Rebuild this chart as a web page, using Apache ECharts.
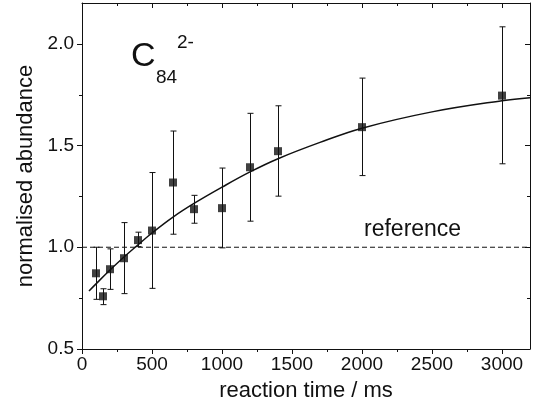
<!DOCTYPE html>
<html>
<head>
<meta charset="utf-8">
<script src="https://cdn.jsdelivr.net/npm/echarts@6/dist/echarts.min.js"></script>
<style>
html,body{margin:0;padding:0;background:#fff;}
#chart{width:537px;height:414px;}
</style>
</head>
<body>
<div id="chart"></div>
<script>
// ---- data ----
const times    = [100, 150, 200, 300, 400, 500, 650, 800, 1000, 1200, 1400, 2000, 3000];
const values   = [0.872, 0.759, 0.892, 0.946, 1.035, 1.082, 1.318, 1.187, 1.192, 1.393, 1.472, 1.590, 1.745];
const errLow   = [0.744, 0.718, 0.793, 0.772, 1.003, 0.798, 1.064, 1.118, 0.997, 1.128, 1.251, 1.352, 1.410];
const errHigh  = [1.000, 0.796, 0.992, 1.121, 1.074, 1.367, 1.571, 1.255, 1.389, 1.658, 1.695, 1.831, 2.083];
const fitTimes = [50, 100, 200, 300, 400, 500, 650, 800, 1000, 1200, 1400, 1700, 2000, 2500, 3000, 3200];
const fitVals  = [0.785, 0.82, 0.888, 0.952, 1.012, 1.07, 1.148, 1.215, 1.295, 1.37, 1.435, 1.515, 1.585, 1.665, 1.72, 1.735];
const referenceLevel = 1.0;
const xMajorTicks = [0, 500, 1000, 1500, 2000, 2500, 3000];
const xMinorTicks = [250, 750, 1250, 1750, 2250, 2750];
const yMajorTicks = [0.5, 1.0, 1.5, 2.0];
const yMinorTicks = [0.75, 1.25, 1.75];
const xTitle = 'reaction time / ms';
const yTitle = 'normalised abundance';

const FONT = '"Liberation Sans", Arial, sans-serif';
const INK = '#111';
const X_MIN = 0, X_MAX = 3200, Y_MIN = 0.5, Y_MAX = 2.2;
const X_STEP = 500, Y_STEP = 0.5;
const MAJOR_LEN = 5, MINOR_LEN = 3;

const line = { show: true, onZero: false, lineStyle: { color: INK, width: 1 } };
function ax(min, max, step, opts) {
  return Object.assign({
    type: 'value', min: min, max: max, interval: step, gridIndex: 0,
    splitLine: { show: false },
    axisLine: line,
    axisLabel: { show: false },
    axisTick: { show: false }
  }, opts);
}
const isMajor = (v, step) => Math.abs(v / step - Math.round(v / step)) < 1e-6;

// tick marks: value + major flag, placed through the axes' scales
const xTickData = xMajorTicks.map(v => [v, Y_MIN, 1]).concat(xMinorTicks.map(v => [v, Y_MIN, 0]));
const yTickData = yMajorTicks.map(v => [X_MIN, v, 1]).concat(yMinorTicks.map(v => [X_MIN, v, 0]));

const chart = echarts.init(document.getElementById('chart'), null, { renderer: 'canvas' });

const option = {
  animation: false,
  backgroundColor: '#fff',
  grid: { left: 82, right: 7, top: 3, bottom: 65, containLabel: false, outerBoundsMode: 'none' },
  xAxis: [
    ax(X_MIN, X_MAX, X_STEP, {
      position: 'bottom',
      axisLabel: { show: true, margin: 6, color: INK, fontSize: 19, fontFamily: FONT,
        showMaxLabel: false, formatter: v => (isMajor(v, X_STEP) ? String(v) : '') },
      name: xTitle, nameLocation: 'middle', nameGap: 31,
      nameTextStyle: { color: INK, fontSize: 22, fontFamily: FONT }
    }),
    ax(X_MIN, X_MAX, X_STEP, { position: 'top' })
  ],
  yAxis: [
    ax(Y_MIN, Y_MAX, Y_STEP, {
      position: 'left',
      axisLabel: { show: true, margin: 8, color: INK, fontSize: 19, fontFamily: FONT,
        showMaxLabel: false, formatter: v => (isMajor(v, Y_STEP) ? v.toFixed(1) : '') },
      name: yTitle, nameLocation: 'middle', nameGap: 44,
      nameTextStyle: { color: INK, fontSize: 22, fontFamily: FONT }
    }),
    ax(Y_MIN, Y_MAX, Y_STEP, { position: 'right' })
  ],
  graphic: [
    { type: 'text', left: 131, top: 40, style: { text: 'C', fill: INK, font: '34px ' + FONT } },
    { type: 'text', left: 156, top: 68, style: { text: '84', fill: INK, font: '19px ' + FONT } },
    { type: 'text', left: 177, top: 33, style: { text: '2-', fill: INK, font: '19px ' + FONT } },
    { type: 'text', left: 364, top: 218, style: { text: 'reference', fill: INK, font: '23px ' + FONT } }
  ],
  series: [
    {
      type: 'line', xAxisIndex: 0, yAxisIndex: 0,
      data: [[X_MIN, referenceLevel], [X_MAX, referenceLevel]],
      showSymbol: false, symbol: 'none', silent: true,
      lineStyle: { color: INK, width: 1, type: [5, 3] }, z: 1
    },
    {
      type: 'line', xAxisIndex: 0, yAxisIndex: 0,
      data: fitTimes.map((t, i) => [t, fitVals[i]]),
      smooth: 0.4, showSymbol: false, symbol: 'none',
      lineStyle: { color: INK, width: 1.5 }, z: 2
    },
    {
      type: 'custom', xAxisIndex: 0, yAxisIndex: 0, z: 3, clip: false, silent: true,
      data: times.map((t, i) => [t, errLow[i], errHigh[i]]),
      renderItem: function (params, api) {
        const x = api.value(0);
        const lo = api.coord([x, api.value(1)]);
        const hi = api.coord([x, api.value(2)]);
        const cap = 3;
        const px = Math.round(lo[0]) + 0.5;
        const st = { stroke: INK, lineWidth: 1 };
        return { type: 'group', children: [
          { type: 'line', shape: { x1: px, y1: lo[1], x2: px, y2: hi[1] }, style: st },
          { type: 'line', shape: { x1: px - cap, y1: lo[1], x2: px + cap, y2: lo[1] }, style: st },
          { type: 'line', shape: { x1: px - cap, y1: hi[1], x2: px + cap, y2: hi[1] }, style: st }
        ] };
      }
    },
    {
      type: 'scatter', xAxisIndex: 0, yAxisIndex: 0, z: 4,
      data: times.map((t, i) => [t, values[i]]),
      symbol: 'rect', symbolSize: 8,
      itemStyle: { color: INK }
    },
    {
      // x-axis ticks: outward at the bottom, inward at the top
      type: 'custom', xAxisIndex: 0, yAxisIndex: 0, z: 5, clip: false, silent: true,
      data: xTickData,
      renderItem: function (params, api) {
        const cs = params.coordSys;
        const px = Math.round(api.coord([api.value(0), Y_MIN])[0]) + 0.5;
        const len = api.value(2) ? MAJOR_LEN : MINOR_LEN;
        const bottom = cs.y + cs.height, top = cs.y;
        const st = { stroke: INK, lineWidth: 1 };
        return { type: 'group', children: [
          { type: 'line', shape: { x1: px, y1: bottom, x2: px, y2: bottom + len }, style: st },
          { type: 'line', shape: { x1: px, y1: top, x2: px, y2: top + len }, style: st }
        ] };
      }
    },
    {
      // y-axis ticks: outward on the left, inward on the right
      type: 'custom', xAxisIndex: 0, yAxisIndex: 0, z: 5, clip: false, silent: true,
      data: yTickData,
      renderItem: function (params, api) {
        const cs = params.coordSys;
        const py = Math.round(api.coord([X_MIN, api.value(1)])[1]) + 0.5;
        const len = api.value(2) ? MAJOR_LEN : MINOR_LEN;
        const left = cs.x, right = cs.x + cs.width;
        const st = { stroke: INK, lineWidth: 1 };
        return { type: 'group', children: [
          { type: 'line', shape: { x1: left - len, y1: py, x2: left, y2: py }, style: st },
          { type: 'line', shape: { x1: right - len, y1: py, x2: right, y2: py }, style: st }
        ] };
      }
    }
  ]
};
chart.setOption(option);
</script>
</body>
</html>
